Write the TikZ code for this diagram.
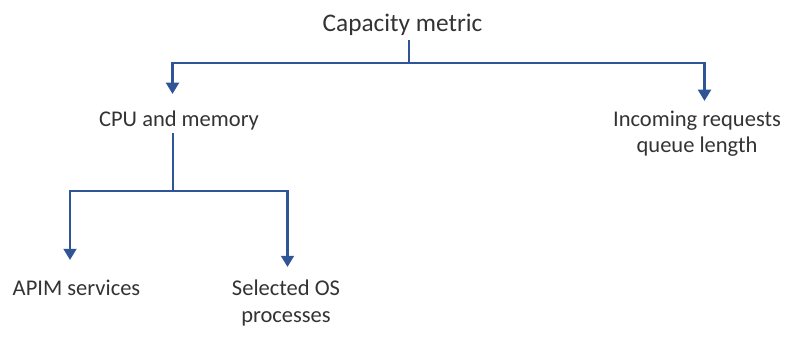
\documentclass[tikz,border=0pt]{standalone}
\usepackage{fontspec}
\setmainfont{Carlito}
\usepackage{xcolor}
\usetikzlibrary{arrows.meta, positioning, calc}

\definecolor{linkblue}{HTML}{2F5597}
\definecolor{textgray}{HTML}{333333}

\begin{document}
\begin{tikzpicture}[
  x=0.025cm, y=0.025cm,
  item/.style   = {inner sep=2pt, align=center, text=textgray,
                   font=\fontsize{16}{18.6}\selectfont},
  metric/.style = {item, font=\fontsize{18}{22}\selectfont},
  link/.style   = {draw=linkblue, line width=2.1pt},
  arr/.style    = {link, -{Triangle[width=9pt, length=8pt]}},
]
\useasboundingbox (0,0) rectangle (800,-340);

% base of a two-line label sits on its last line
\node[metric, anchor=base] (cap)  at (402.5,-32) {Capacity metric};
\node[item,   anchor=base] (cpu)  at (179,-127)  {CPU and memory};
\node[item,   anchor=base] (inc)  at (697,-153)  {Incoming requests\\queue length};
\node[item,   anchor=base] (apim) at (76.5,-295) {APIM services};
\node[item,   anchor=base] (sel)  at (286,-322)  {Selected OS\\processes};

% first split: metric -> cpu / requests
\coordinate (capsplit) at ($(cap.base)+(6.5,-31)$);
\draw[link] ($(cap.base)+(6.5,-8)$) -- (capsplit);
\draw[arr] (capsplit) -| ($(cpu.base)+(-6.5,33)$);
\draw[arr] (capsplit) -| ($(inc.base)+(7.5,52)$);

% second split: cpu -> apim / os processes
\coordinate (cpusplit) at ($(cpu.base)+(-6,-64)$);
\draw[link] ($(cpu.base)+(-6,-6)$) -- (cpusplit);
\draw[arr] (cpusplit) -| ($(apim.base)+(-6.5,35)$);
\draw[arr] (cpusplit) -| ($(sel.base)+(1.5,55)$);

\end{tikzpicture}
\end{document}
